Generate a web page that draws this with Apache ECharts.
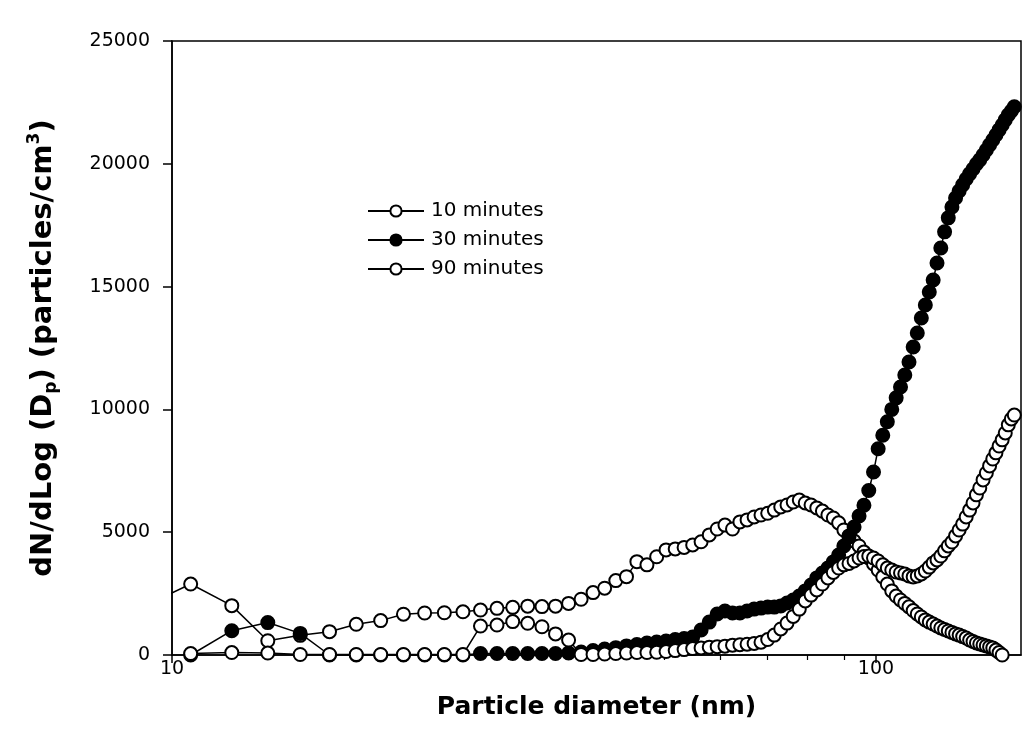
<!DOCTYPE html>
<html>
<head>
<meta charset="utf-8">
<script src="https://cdn.jsdelivr.net/npm/echarts@6/dist/echarts.min.js"></script>
<style>
html,body{margin:0;padding:0;background:#fff;}
#chart{width:1023px;height:755px;}
</style>
</head>
<body>
<div id="chart"></div>
<script>
// Particle diameters (nm); the first one lies just left of the plotted range
const diameters = [9.10, 10.63, 12.16, 13.68, 15.21, 16.74, 18.27, 19.79, 21.32, 22.85, 24.37,
  25.90, 27.43, 28.95, 30.48, 32.01, 33.54, 35.06, 36.59, 38.12, 39.64,
  41.17, 42.70, 44.22, 45.75, 47.28, 48.81, 50.33, 51.86, 53.39, 54.91,
  56.44, 57.97, 59.49, 61.02, 62.55, 64.08, 65.60, 67.13, 68.66, 70.18,
  71.71, 73.24, 74.76, 76.29, 77.82, 79.35, 80.87, 82.40, 83.93, 85.45,
  86.98, 88.51, 90.03, 91.56, 93.09, 94.62, 96.14, 97.67, 99.20, 100.72,
  102.25, 103.78, 105.30, 106.83, 108.36, 109.89, 111.41, 112.94, 114.47, 115.99,
  117.52, 119.05, 120.57, 122.10, 123.63, 125.16, 126.68, 128.21, 129.74, 131.26,
  132.79, 134.32, 135.84, 137.37, 138.90, 140.43, 141.95, 143.48, 145.01, 146.53,
  148.06, 149.59, 151.11, 152.64, 154.17, 155.70, 157.22];

const min10 = [1970, 2890, 2010, 580, 800, 950, 1250, 1400, 1660, 1710, 1720,
  1760, 1830, 1900, 1940, 1990, 1970, 1990, 2100, 2270, 2540,
  2720, 3030, 3190, 3800, 3670, 4000, 4280, 4320, 4380, 4480,
  4610, 4890, 5130, 5290, 5130, 5420, 5500, 5620, 5700, 5770,
  5900, 6030, 6110, 6230, 6310, 6190, 6110, 5990, 5860, 5700,
  5580, 5380, 5090, 4850, 4640, 4440, 4190, 3950, 3710, 3460,
  3180, 2890, 2610, 2400, 2240, 2100, 1960, 1810, 1670, 1550,
  1430, 1340, 1260, 1180, 1100, 1040, 980, 920, 860, 810,
  750, 690, 610, 550, 490, 450, 410, 370, 330, 290,
  200, 100, 0];

const min30 = [null, 0, 990, 1320, 880, 0, 0, 0, 0, 0, 0,
  0, 60, 60, 60, 60, 60, 60, 80, 120, 180,
  240, 300, 370, 430, 490, 530, 570, 630, 670, 730,
  1020, 1340, 1670, 1790, 1710, 1710, 1790, 1870, 1910, 1950,
  1950, 2000, 2120, 2240, 2400, 2610, 2850, 3140, 3340, 3540,
  3790, 4070, 4440, 4810, 5210, 5660, 6100, 6700, 7450, 8400,
  8950, 9500, 10000, 10470, 10910, 11400, 11930, 12540, 13110, 13720,
  14250, 14780, 15270, 15960, 16570, 17230, 17800, 18240, 18610, 18890,
  19140, 19380, 19590, 19790, 19990, 20160, 20360, 20560, 20770, 20970,
  21170, 21380, 21580, 21790, 21990, 22150, 22320];

const min90 = [null, 60, 100, 80, 20, 20, 20, 20, 20, 20, 20,
  20, 1180, 1220, 1360, 1290, 1150, 860, 610, 20, 20,
  40, 60, 80, 100, 100, 110, 140, 180, 220, 260,
  290, 320, 340, 360, 400, 420, 440, 470, 520, 630,
  810, 1060, 1300, 1570, 1870, 2200, 2440, 2650, 2890, 3140,
  3360, 3540, 3670, 3730, 3830, 3950, 4010, 4030, 3950, 3830,
  3670, 3540, 3460, 3380, 3340, 3300, 3220, 3180, 3220, 3300,
  3420, 3580, 3750, 3870, 4030, 4240, 4440, 4600, 4850, 5090,
  5330, 5620, 5900, 6190, 6520, 6800, 7130, 7410, 7700, 7980,
  8230, 8510, 8760, 9040, 9370, 9610, 9770];

const seriesNames = ['10 minutes', '30 minutes', '90 minutes'];
const xMajorTicks = [10, 100];
const xMinorTicks = [20, 30, 40, 50, 60, 70, 80, 90];
const yMin = 0, yMax = 25000, yStep = 5000;
const xMin = 10, xMax = 160.7;

function toPairs(values) {
  const out = [];
  values.forEach((v, i) => {
    if (v !== null && v !== undefined && diameters[i] !== undefined) out.push([diameters[i], v]);
  });
  return out;
}

const FONT = 'DejaVu Sans';

function lineSeries(name, values, fill) {
  return {
    type: 'line',
    name: name,
    xAxisIndex: 0,
    yAxisIndex: 0,
    data: toPairs(values),
    symbol: 'circle',
    symbolSize: 13,
    showAllSymbol: true,
    clip: true,
    lineStyle: { color: '#000', width: 1.5 },
    itemStyle: { color: fill, borderColor: '#000', borderWidth: 2 },
    emphasis: { disabled: true },
    animation: false
  };
}

function majorLabel(v) {
  for (const t of xMajorTicks) { if (Math.abs(v - t) < 1e-6 * t) return String(t); }
  return '';
}

const chart = echarts.init(document.getElementById('chart'), null, { renderer: 'canvas' });
chart.setOption({
  backgroundColor: '#fff',
  animation: false,
  grid: {
    left: 172, right: 2, top: 41, bottom: 100,
    show: true, borderColor: '#000', borderWidth: 1.5, backgroundColor: 'transparent'
  },
  legend: {
    data: seriesNames,
    orient: 'vertical',
    left: 362, top: 196,
    itemWidth: 56, itemHeight: 14, itemGap: 9,
    textStyle: { fontFamily: FONT, fontSize: 20, color: '#000', lineHeight: 20, padding: [0, 0, 0, 2] },
    selectedMode: false
  },
  xAxis: [
    {
      type: 'log', logBase: 10, min: xMin, max: xMax, position: 'bottom',
      name: 'Particle diameter (nm)',
      nameLocation: 'middle', nameGap: 40,
      nameTextStyle: { fontFamily: FONT, fontWeight: 'bold', fontSize: 25, color: '#000' },
      axisLine: { show: true, onZero: false, lineStyle: { color: '#000', width: 1.5 } },
      axisTick: { show: true, inside: false, length: 5, customValues: xMinorTicks,
        lineStyle: { color: '#000', width: 1.2 } },
      axisLabel: {
        margin: 5, fontFamily: FONT, fontSize: 19, color: '#000',
        customValues: xMajorTicks,
        formatter: majorLabel
      },
      splitLine: { show: false }
    },
    {
      type: 'log', logBase: 10, min: xMin, max: xMax, position: 'bottom', offset: 0,
      axisLine: { show: false, onZero: false },
      axisTick: { show: true, inside: false, length: 8, customValues: xMajorTicks,
        lineStyle: { color: '#000', width: 1.5 } },
      axisLabel: { show: false },
      splitLine: { show: false }
    }
  ],
  yAxis: {
    type: 'value', min: yMin, max: yMax, interval: yStep,
    name: '{b|dN/dLog (D}{s|p}{b|) (particles/cm}{u|3}{b|)}',
    nameLocation: 'middle', nameRotate: 90, nameGap: 112,
    nameTextStyle: {
      color: '#000',
      rich: {
        b: { fontFamily: FONT, fontWeight: 'bold', fontSize: 29, color: '#000', lineHeight: 34 },
        s: { fontFamily: FONT, fontWeight: 'bold', fontSize: 17, color: '#000', lineHeight: 17, verticalAlign: 'bottom' },
        u: { fontFamily: FONT, fontWeight: 'bold', fontSize: 17, color: '#000', lineHeight: 17, verticalAlign: 'top' }
      }
    },
    axisLine: { show: true, onZero: false, lineStyle: { color: '#000', width: 1.5 } },
    axisTick: { show: true, inside: false, length: 9, lineStyle: { color: '#000', width: 1.5 } },
    axisLabel: { margin: 22, fontFamily: FONT, fontSize: 19, color: '#000',
      formatter: function (v) { return String(v); } },
    splitLine: { show: false }
  },
  series: [
    lineSeries(seriesNames[0], min10, '#fff'),
    lineSeries(seriesNames[1], min30, '#000'),
    lineSeries(seriesNames[2], min90, '#fff')
  ]
});
</script>
</body>
</html>
